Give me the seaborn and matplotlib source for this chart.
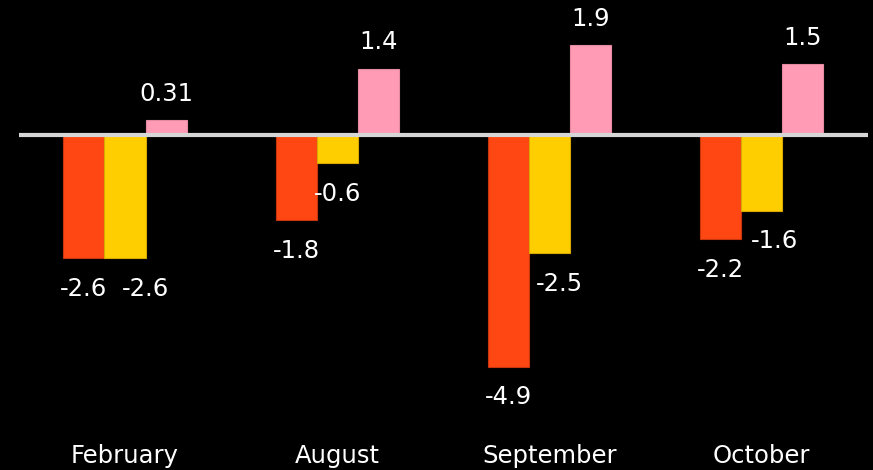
import pandas as pd
import matplotlib.pyplot as plt
import seaborn as sns

# Chart data
months = ['February', 'August', 'September', 'October']
series_names = ['Series 1', 'Series 2', 'Series 3']
series_1 = [-2.6, -1.8, -4.9, -2.2]
series_2 = [-2.6, -0.6, -2.5, -1.6]
series_3 = [0.31, 1.4, 1.9, 1.5]
value_labels = [['-2.6', '-1.8', '-4.9', '-2.2'],
                ['-2.6', '-0.6', '-2.5', '-1.6'],
                ['0.31', '1.4', '1.9', '1.5']]

colors = ['#FF4713', '#FFCE00', '#FF9BB5']
edge_colors = ['#C8360E', '#D9A800', '#E58AA2']

rows = []
for name, vals in zip(series_names, [series_1, series_2, series_3]):
    for m, v in zip(months, vals):
        rows.append({'month': m, 'series': name, 'value': v})
df = pd.DataFrame(rows)

sns.set_style('white')
plt.rcParams['font.family'] = ['DejaVu Sans']

fig = plt.figure(figsize=(8.73, 4.70), dpi=100, facecolor='black')
ax = fig.add_axes([0, 40 / 470, 1, 430 / 470])
ax.set_facecolor('black')

sns.barplot(data=df, x='month', y='value', hue='series', order=months,
            hue_order=series_names, palette=colors, width=0.58, gap=0,
            saturation=1, legend=False, ax=ax, errorbar=None, linewidth=0.8)

# colour the bar outlines per series
for i, container in enumerate(ax.containers):
    for bar in container:
        bar.set_edgecolor(edge_colors[i])

# zero line
ax.axhline(0, xmin=19 / 873, xmax=868 / 873, color='#D6D6D6', lw=3,
           solid_capstyle='butt', zorder=5)

# value labels (second series nudged right as in the original)
x_shift = [[0, 0, 0, 0], [15, 0, 7, 9], [0, 0, 0, 0]]
for i, container in enumerate(ax.containers):
    for j, bar in enumerate(container):
        v = bar.get_height()
        x = bar.get_x() + bar.get_width() / 2
        dy = 19 if v > 0 else -22
        ax.annotate(value_labels[i][j], (x, v), xytext=(x_shift[i][j], dy),
                    textcoords='offset points', ha='center', va='center',
                    color='white', fontsize=17.5)

ax.set_xlim(-0.589, 3.525)
ax.set_ylim(-6.237, 2.854)
ax.set_yticks([])
ax.set_xlabel('')
ax.set_ylabel('')
ax.tick_params(axis='x', length=0, pad=10, labelsize=17.5, colors='white')
for s in ax.spines.values():
    s.set_visible(False)

fig.savefig('out.png', dpi=100, facecolor='black')
